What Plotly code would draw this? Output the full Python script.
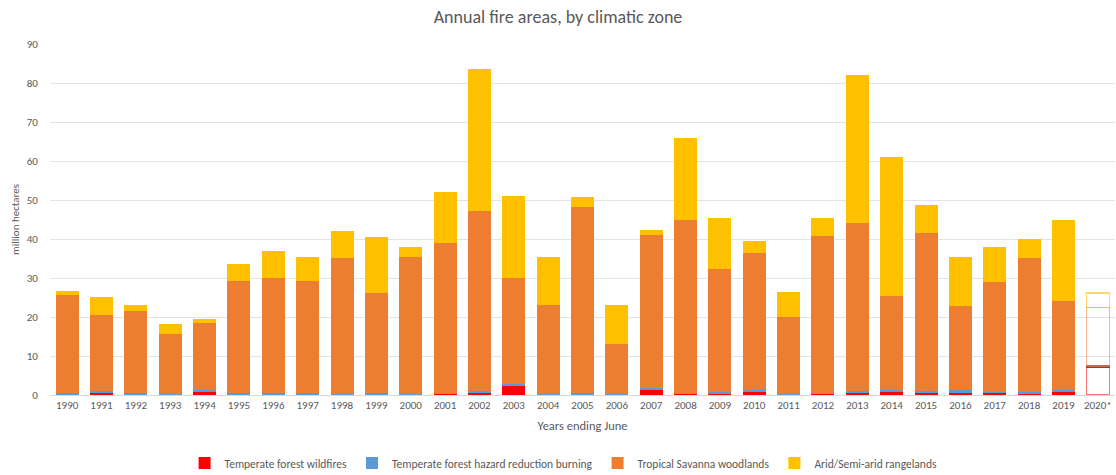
import plotly.graph_objects as go

# Fire season (year ending June); the starred year is provisional
years = ["1990", "1991", "1992", "1993", "1994", "1995", "1996", "1997", "1998", "1999",
         "2000", "2001", "2002", "2003", "2004", "2005", "2006", "2007", "2008", "2009",
         "2010", "2011", "2012", "2013", "2014", "2015", "2016", "2017", "2018", "2019",
         "2020*"]

# Area burnt, million hectares
temperate_wildfires = [0.0, 0.4, 0.0, 0.0, 0.7, 0.0, 0.0, 0.0, 0.0, 0.0,
                       0.0, 0.3, 0.6, 2.5, 0.0, 0.0, 0.0, 1.5, 0.3, 0.3,
                       0.8, 0.0, 0.3, 0.6, 1.0, 0.6, 0.6, 0.6, 0.3, 0.8,
                       7.1]
temperate_hazard_burning = [0.5, 0.6, 0.4, 0.3, 0.7, 0.5, 0.5, 0.5, 0.3, 0.4,
                            0.3, 0.3, 0.3, 0.3, 0.3, 0.6, 0.3, 0.3, 0.3, 0.5,
                            0.5, 0.3, 0.2, 0.5, 0.4, 0.3, 0.8, 0.2, 0.5, 0.4,
                            0.4]
tropical_savanna = [25.1, 19.5, 21.1, 15.3, 17.1, 28.7, 29.5, 28.8, 34.9, 25.8,
                    35.0, 38.4, 46.3, 27.2, 22.7, 47.7, 12.7, 39.2, 44.4, 31.5,
                    35.2, 19.7, 40.3, 43.1, 24.1, 40.6, 21.4, 28.2, 34.4, 22.8,
                    14.9]
arid_rangelands = [1.1, 4.6, 1.5, 2.5, 1.0, 4.4, 6.8, 6.2, 6.8, 14.2,
                   2.7, 13.0, 36.3, 21.0, 12.5, 2.5, 10.2, 1.3, 21.0, 13.2,
                   3.0, 6.5, 4.5, 37.8, 35.5, 7.3, 12.5, 9.0, 4.8, 20.8,
                   3.7]

series = [
    ("Temperate forest wildfires", temperate_wildfires, "#FF0000", "rgba(255,0,0,0.55)"),
    ("Temperate forest hazard reduction burning", temperate_hazard_burning, "#5B9BD5", "rgba(112,48,60,0.8)"),
    ("Tropical Savanna woodlands", tropical_savanna, "#ED7D31", "rgba(237,125,49,0.55)"),
    ("Arid/Semi-arid rangelands", arid_rangelands, "#FFC000", "rgba(255,192,0,0.6)"),
]

provisional = [y.endswith("*") for y in years]

FONT = "Carlito, Lato, 'Open Sans', sans-serif"
TEXT = "#595959"

fig = go.Figure()
for name, values, fill, outline in series:
    fig.add_trace(go.Bar(
        name=name,
        x=years,
        y=values,
        marker=dict(
            color=["rgba(255,255,255,0)" if p else fill for p in provisional],
            line=dict(
                color=[outline if p else fill for p in provisional],
                width=[1.5 if p else 0 for p in provisional],
            ),
        ),
    ))

fig.update_layout(
    width=1116,
    height=475,
    barmode="stack",
    bargap=0.33,
    plot_bgcolor="white",
    paper_bgcolor="white",
    margin=dict(l=50, r=1, t=44, b=80),
    font=dict(family=FONT, color=TEXT, size=11),
    title=dict(
        text="Annual fire areas, by climatic zone",
        x=0.5, xref="container", xanchor="center",
        y=1 - 17 / 475, yref="container", yanchor="middle",
        font=dict(size=18, color=TEXT, family=FONT),
    ),
    legend=dict(
        orientation="h",
        xref="container", x=0.505, xanchor="center",
        yref="container", y=1 - 463 / 475, yanchor="middle",
        font=dict(size=11.5, color=TEXT),
        itemwidth=30,
        traceorder="normal",
    ),
    xaxis=dict(
        type="category",
        showgrid=False,
        showline=True,
        linecolor="#D9D9D9",
        linewidth=1,
        ticks="",
        tickfont=dict(size=11, color=TEXT),
        title=dict(text="Years ending June", font=dict(size=12.5, color=TEXT), standoff=10),
    ),
    yaxis=dict(
        range=[0, 90],
        dtick=10,
        showgrid=True,
        gridcolor="#E3E3E3",
        gridwidth=1,
        zeroline=False,
        ticks="outside",
        ticklen=9,
        tickcolor="rgba(0,0,0,0)",
        tickfont=dict(size=11, color=TEXT),
        title=dict(text="million hectares", font=dict(size=11, color=TEXT), standoff=4),
    ),
)

fig.write_html("out.html")
